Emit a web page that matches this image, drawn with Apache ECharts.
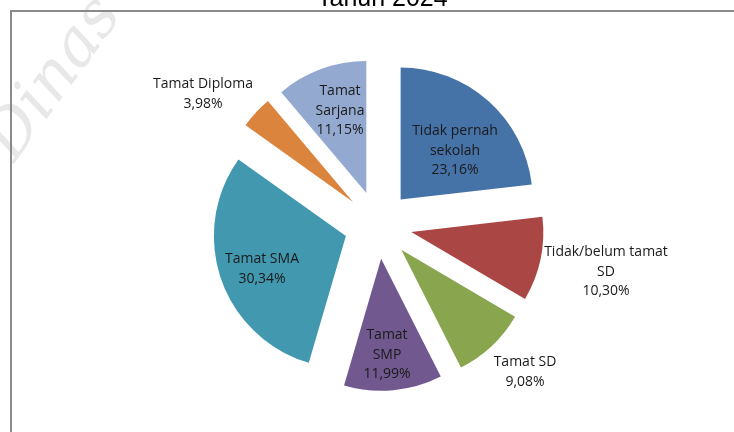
<!DOCTYPE html>
<html>
<head>
<meta charset="utf-8">
<script src="https://cdn.jsdelivr.net/npm/echarts@6/dist/echarts.min.js"></script>
<style>
  html, body { margin: 0; padding: 0; background: #fff; }
  #chart { width: 734px; height: 432px; }
</style>
</head>
<body>
<div id="chart"></div>
<script>
// data (percent of population, clockwise from 12 o'clock)
const categories = [
  'Tidak pernah\nsekolah',
  'Tidak/belum tamat\nSD',
  'Tamat SD',
  'Tamat\nSMP',
  'Tamat SMA',
  'Tamat Diploma',
  'Tamat\nSarjana'
];
const shares = [23.16, 10.30, 9.08, 11.99, 30.34, 3.98, 11.15];
const colors = ['#4572A7', '#AA4643', '#89A54E', '#71588F', '#4198AF', '#DB843D', '#93A9CF'];

// where each label sits (Excel "best fit" placement)
const labelAt = [[455, 151], [606, 272], [525, 372], [387, 355], [262, 269], [203, 94], [340, 111]];

const fmt = (v) => v.toFixed(2).replace('.', ',') + '%';

const center = [378, 225];
const radius = 132;

const chart = echarts.init(document.getElementById('chart'));

chart.setOption({
  animation: false,
  title: {
    text: 'Tahun 2024',
    left: 312,
    top: -18,
    textStyle: { fontFamily: 'Liberation Sans', fontSize: 25, fontWeight: 'normal', color: '#000' }
  },
  graphic: [
    {
      type: 'text', silent: true, z: 0,
      x: -25, y: 135, rotation: Math.PI * 0.3,
      style: { text: 'Dinas', font: 'italic 64px "DejaVu Serif"', fill: '#e8e8e8' }
    },
    {
      type: 'rect', silent: true, z: 1,
      shape: { x: 11, y: 11, width: 800, height: 500 },
      style: { fill: 'none', stroke: '#8a8a8a', lineWidth: 2 }
    }
  ],
  series: [
    {
      // exploded slices
      type: 'pie',
      center: center,
      radius: radius,
      startAngle: 90,
      clockwise: true,
      selectedMode: 'multiple',
      selectedOffset: 34,
      silent: true,
      z: 5,
      data: shares.map((v, i) => ({
        name: categories[i],
        value: v,
        selected: true,
        itemStyle: { color: colors[i] }
      })),
      label: { show: false },
      labelLine: { show: false },
      select: { itemStyle: { borderWidth: 0 } }
    },
    {
      // carries the data labels
      type: 'pie',
      center: center,
      radius: radius,
      startAngle: 90,
      clockwise: true,
      silent: true,
      z: 6,
      data: shares.map((v, i) => ({ name: categories[i], value: v })),
      itemStyle: { color: 'rgba(0,0,0,0)' },
      label: {
        show: true,
        position: 'inside',
        formatter: (p) => p.name + '\n' + fmt(p.value),
        fontFamily: 'Open Sans',
        fontSize: 14,
        lineHeight: 19.5,
        color: '#1a1a1a',
        align: 'center'
      },
      labelLine: { show: false },
      labelLayout: (p) => ({
        x: labelAt[p.dataIndex][0],
        y: labelAt[p.dataIndex][1],
        align: 'center',
        verticalAlign: 'middle',
        hideOverlap: false
      })
    }
  ]
});
</script>
</body>
</html>
